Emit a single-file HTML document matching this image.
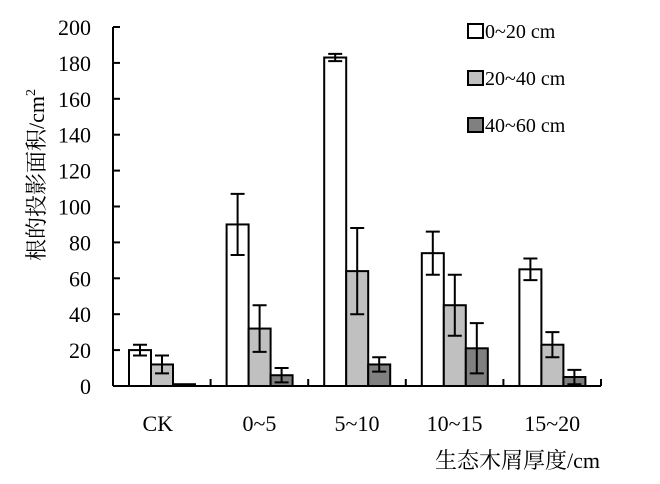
<!DOCTYPE html>
<html><head><meta charset="utf-8">
<style>
html,body{margin:0;padding:0;background:#fff;}
svg text{font-family:"Liberation Serif","Noto Serif CJK SC",serif;fill:#000;}
</style></head>
<body>
<svg id="chart" width="660" height="479" xmlns="http://www.w3.org/2000/svg">
<g id="axes"></g>
<g id="bars"></g>
<g id="legend"></g>
</svg>
<script>
const categories = ["CK","0~5","5~10","10~15","15~20"];
const seriesNames = ["0~20 cm","20~40 cm","40~60 cm"];
const seriesColors = ["#ffffff","#c0c0c0","#808080"];
const s1 = [20, 90, 183, 74, 65];
const s2 = [12, 32, 64, 45, 23];
const s3 = [1, 6, 12, 21, 5];
const e1 = [3, 17, 2, 12, 6];
const e2 = [5, 13, 24, 17, 7];
const e3 = [0, 4, 4, 14, 4];
const yTicks = [0,20,40,60,80,100,120,140,160,180,200];

const NS = "http://www.w3.org/2000/svg";
const x0 = 113, x1 = 601, yBase = 386, yTop = 27, yMax = 200;
const catW = (x1 - x0) / categories.length;
const barW = 22, groupOff = 16;
function y(v){ return yBase - v / yMax * (yBase - yTop); }
function mk(tag, attrs, parent){ const e = document.createElementNS(NS, tag); for (const k in attrs) e.setAttribute(k, attrs[k]); parent.appendChild(e); return e; }
const axes = document.getElementById('axes');
const bars = document.getElementById('bars');
const legend = document.getElementById('legend');

let yl = mk('line',{x1:x0,y1:yTop,x2:x0,y2:yBase,stroke:'#000','stroke-width':2},axes);


let xl = mk('line',{x1:x0,y1:yBase,x2:x1,y2:yBase,stroke:'#000','stroke-width':2},axes);


yTicks.forEach(t=>{
  const tk = mk('line',{x1:x0,y1:y(t),x2:x0+7,y2:y(t),stroke:'#000','stroke-width':2},axes);
  
  
  const tx = mk('text',{x:x0-22,y:y(t)+8,'text-anchor':'end','font-size':22},axes);
  tx.textContent = t;
  
  
});
categories.forEach((c,i)=>{
  const tk = mk('line',{x1:x0+catW*(i+1),y1:yBase,x2:x0+catW*(i+1),y2:yBase-7,stroke:'#000','stroke-width':2},axes);
  
  
  const tx = mk('text',{x:x0+catW*i+catW/2+(i==0?-4:0),y:431,'text-anchor':'middle','font-size':22},axes);
  tx.textContent = c;
  
  
});
const yt = mk('text',{transform:'translate(44,175) rotate(-90)','text-anchor':'middle','font-size':22,fill:'#222'},axes);
yt.innerHTML = '根的投影面积/cm<tspan dy="-9" font-size="14">2</tspan>';


const xt = mk('text',{x:600,y:468,'text-anchor':'end','font-size':22},axes);
xt.textContent = '生态木屑厚度/cm';



const vals = [s1,s2,s3], errs = [e1,e2,e3];
categories.forEach((c,i)=>{
  vals.forEach((s,k)=>{
    const bx = x0 + catW*i + groupOff + barW*k;
    const r = mk('rect',{x:bx,y:y(s[i]),width:barW,height:yBase-y(s[i]),fill:seriesColors[k],stroke:'#000','stroke-width':2},bars);
    
    
    const e = errs[k][i];
    if (e>0){
      const cx = bx + barW/2, hi = y(s[i]+e), lo = y(Math.max(0,s[i]-e));
      const g = mk('path',{d:`M${cx},${hi}V${lo}M${cx-7},${hi}H${cx+7}M${cx-7},${lo}H${cx+7}`,stroke:'#000','stroke-width':2,fill:'none'},bars);
      
      
    }
  });
});
seriesNames.forEach((n,k)=>{
  const ly = 24 + 47*k;
  const r = mk('rect',{x:468,y:ly,width:15,height:14,fill:seriesColors[k],stroke:'#000','stroke-width':2},legend);
  
  
  const t = mk('text',{x:485,y:ly+14,'font-size':20},legend);
  t.textContent = n;
  
  
});
</script>
</body></html>
